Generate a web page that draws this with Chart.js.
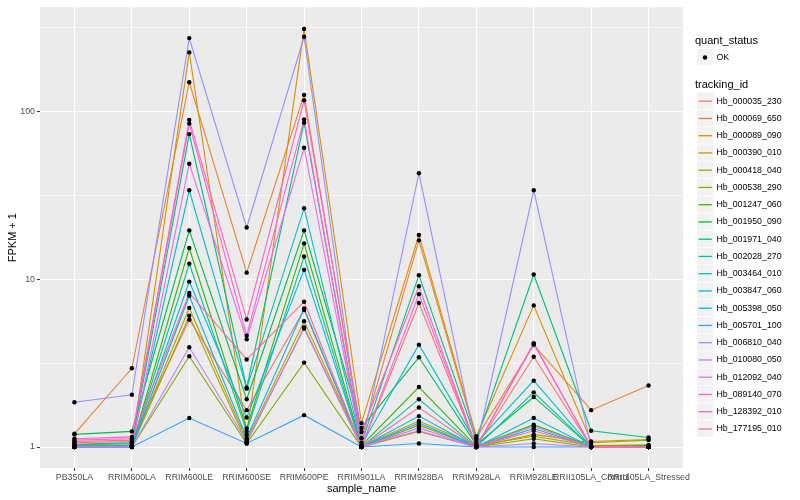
<!DOCTYPE html>
<html>
<head>
<meta charset="utf-8">
<script src="https://cdn.jsdelivr.net/npm/chart.js@4.4.0/dist/chart.umd.min.js"></script>
<style>
  body { margin: 0; background: #fff; }
  #fpkmChart { display: block; }
</style>
</head>
<body>
<canvas id="fpkmChart" width="800" height="500"></canvas>
<script>
// Các mẫu (trục x)
const categories = ['PB350LA', 'RRIM600LA', 'RRIM600LE', 'RRIM600SE', 'RRIM600PE', 'RRIM901LA',
  'RRIM928BA', 'RRIM928LA', 'RRIM928LE', 'RRII105LA_Control', 'RRII105LA_Stressed'];

// Giá trị FPKM + 1 cho từng gene
const hb_000035_230 = [1.06, 1.08, 5.75, 1.66, 6.56, 1.0, 7.24, 1.0, 3.46, 1.0, 1.0];
const hb_000069_650 = [1.2, 2.95, 150, 10.97, 126, 1.13, 17.1, 1.13, 4.07, 1.66, 2.33];
const hb_000089_090 = [1.02, 1.03, 226, 1.18, 312, 1.39, 18.4, 1.16, 7.0, 1.08, 1.11];
const hb_000390_010 = [1.0, 1.01, 6.76, 1.1, 5.63, 1.01, 1.43, 1.02, 1.16, 1.02, 1.03];
const hb_000418_040 = [1.0, 1.0, 6.07, 1.06, 5.18, 1.0, 1.24, 1.0, 1.19, 1.06, 1.1];
const hb_000538_290 = [1.0, 1.0, 3.48, 1.05, 3.19, 1.0, 1.35, 1.0, 1.12, 1.0, 1.0];
const hb_001247_060 = [1.01, 1.02, 15.4, 1.29, 16.4, 1.02, 2.28, 1.01, 1.36, 1.01, 1.01];
const hb_001950_090 = [1.19, 1.24, 19.6, 1.93, 19.6, 1.3, 3.43, 1.03, 1.99, 1.0, 1.02];
const hb_001971_040 = [1.04, 1.06, 73.6, 2.26, 86, 1.06, 10.6, 1.1, 10.7, 1.25, 1.14];
const hb_002028_270 = [1.0, 1.01, 12.4, 1.24, 13.7, 1.0, 1.93, 1.0, 2.12, 1.0, 1.0];
const hb_003464_010 = [1.03, 1.05, 34, 2.23, 26.6, 1.03, 4.08, 1.06, 2.49, 1.0, 1.0];
const hb_003847_060 = [1.0, 1.02, 9.7, 1.5, 11.4, 1.0, 1.53, 1.0, 1.49, 1.0, 1.0];
const hb_005398_050 = [1.0, 1.01, 7.98, 1.13, 6.7, 1.0, 1.39, 1.0, 1.29, 1.0, 1.0];
const hb_005701_100 = [1.0, 1.0, 1.49, 1.05, 1.55, 1.0, 1.05, 1.0, 1.0, 1.0, 1.0];
const hb_006810_040 = [1.85, 2.05, 275, 20.4, 280, 1.0, 43, 1.0, 34, 1.0, 1.0];
const hb_010080_050 = [1.0, 1.0, 3.94, 1.08, 5.1, 1.0, 1.3, 1.0, 1.05, 1.0, 1.0];
const hb_012092_040 = [1.0, 1.01, 49, 4.39, 61, 1.01, 1.25, 1.0, 1.33, 1.0, 1.0];
const hb_089140_070 = [1.1, 1.12, 85, 4.62, 90, 1.0, 8.17, 1.0, 4.12, 1.0, 1.0];
const hb_128392_010 = [1.12, 1.15, 89.5, 5.77, 117, 1.23, 9.1, 1.0, 4.17, 1.0, 1.0];
const hb_177195_010 = [1.08, 1.1, 8.3, 3.33, 7.36, 1.0, 1.72, 1.0, 1.25, 1.0, 1.0];

const trackingIds = ['Hb_000035_230', 'Hb_000069_650', 'Hb_000089_090', 'Hb_000390_010',
  'Hb_000418_040', 'Hb_000538_290', 'Hb_001247_060', 'Hb_001950_090', 'Hb_001971_040',
  'Hb_002028_270', 'Hb_003464_010', 'Hb_003847_060', 'Hb_005398_050', 'Hb_005701_100',
  'Hb_006810_040', 'Hb_010080_050', 'Hb_012092_040', 'Hb_089140_070', 'Hb_128392_010',
  'Hb_177195_010'];
const seriesValues = [hb_000035_230, hb_000069_650, hb_000089_090, hb_000390_010, hb_000418_040,
  hb_000538_290, hb_001247_060, hb_001950_090, hb_001971_040, hb_002028_270, hb_003464_010,
  hb_003847_060, hb_005398_050, hb_005701_100, hb_006810_040, hb_010080_050, hb_012092_040,
  hb_089140_070, hb_128392_010, hb_177195_010];

// Nhãn trục y (log)
const yTickValues = [1, 10, 100];
const yMinorValues = [Math.sqrt(10), Math.sqrt(1000), Math.sqrt(100000)];

// Màu kiểu ggplot
const lineColours = ['#F8766D', '#EA8331', '#D89000', '#C09B00', '#A3A500', '#7CAE00', '#39B600',
  '#00BB4E', '#00BF7D', '#00C1A3', '#00BFC4', '#00BAE0', '#00B0F6', '#35A2FF', '#9590FF',
  '#C77CFF', '#E76BF3', '#FA62DB', '#FF62BC', '#FF6C91'];

const FONT = "'Liberation Sans', Arial, sans-serif";

const lineSets = trackingIds.map((id, i) => ({
  label: id,
  data: seriesValues[i].map((v, j) => ({ x: j, y: v })),
  borderColor: lineColours[i],
  backgroundColor: lineColours[i],
  borderWidth: 1.1,
  pointRadius: 0,
  tension: 0,
  order: 20 - i,
}));

const pointSet = {
  label: 'OK',
  data: seriesValues.flatMap(vals => vals.map((v, j) => ({ x: j, y: v }))),
  showLine: false,
  pointRadius: 2.2,
  pointBackgroundColor: '#000',
  pointBorderWidth: 0,
  order: -1,
};

// Vẽ nền panel và chú thích
const ggPlugin = {
  id: 'ggPlugin',
  beforeDraw(chart) {
    const c = chart.ctx, a = chart.chartArea;
    c.save();
    c.fillStyle = '#fff';
    c.fillRect(0, 0, chart.width, chart.height);
    c.fillStyle = '#EBEBEB';
    c.fillRect(a.left, a.top, a.right - a.left, a.bottom - a.top);
    c.restore();
  },
  afterDraw(chart) {
    const c = chart.ctx;
    const kx = 697, ks = 17.3;
    c.save();
    c.textBaseline = 'middle';
    c.textAlign = 'left';
    c.fillStyle = '#000';
    c.font = '11px ' + FONT;
    c.fillText('quant_status', 695, 41);
    // key OK
    c.fillStyle = '#F2F2F2';
    c.fillRect(kx, 49, ks - 1, ks - 1);
    c.fillStyle = '#000';
    c.beginPath();
    c.arc(kx + 8, 57.5, 2.2, 0, Math.PI * 2);
    c.fill();
    c.font = '8.8px ' + FONT;
    c.fillText('OK', 716.5, 57.5);

    c.font = '11px ' + FONT;
    c.fillText('tracking_id', 695, 85);
    trackingIds.forEach((id, i) => {
      const cy = 100.7 + i * 17.25;
      c.fillStyle = '#F2F2F2';
      c.fillRect(kx, cy - 8, ks - 1, ks - 1);
      c.strokeStyle = lineColours[i];
      c.lineWidth = 1.3;
      c.beginPath();
      c.moveTo(kx + 1.5, cy + 0.5);
      c.lineTo(kx + ks - 2.5, cy + 0.5);
      c.stroke();
      c.fillStyle = '#000';
      c.font = '8.8px ' + FONT;
      c.fillText(id, 716.5, cy + 0.5);
    });
    c.restore();
  },
};

const chart = new Chart(document.getElementById('fpkmChart').getContext('2d'), {
  type: 'line',
  data: { datasets: [...lineSets, pointSet] },
  plugins: [ggPlugin],
  options: {
    responsive: false,
    animation: false,
    devicePixelRatio: 1,
    layout: { padding: { left: 0, right: 117, top: 5, bottom: 0 } },
    plugins: { legend: { display: false }, tooltip: { enabled: false } },
    scales: {
      x: {
        type: 'linear',
        min: -0.6,
        max: categories.length - 0.4,
        afterBuildTicks: s => { s.ticks = categories.map((_, i) => ({ value: i })); },
        afterFit: s => { s.height = 32; },
        border: { display: false },
        grid: { color: '#fff', lineWidth: 1.1, tickColor: '#333', tickLength: 3, tickWidth: 1 },
        ticks: {
          autoSkip: false, maxRotation: 0, minRotation: 0, padding: 1,
          color: '#4D4D4D', font: { family: FONT, size: 8.8 },
          callback: v => categories[v],
        },
        title: { display: true, text: 'sample_name', color: '#000', font: { family: FONT, size: 11 }, padding: { top: 0, bottom: 4 } },
      },
      y: {
        type: 'logarithmic',
        min: 0.75,
        max: 420,
        afterBuildTicks: s => {
          s.ticks = [...yTickValues, ...yMinorValues].sort((a, b) => a - b).map(v => ({ value: v }));
        },
        afterFit: s => { s.width = 40; },
        border: { display: false },
        grid: {
          color: '#fff',
          lineWidth: ctx => (yTickValues.includes(ctx.tick && ctx.tick.value) ? 1.1 : 0.55),
          tickColor: ctx => (yTickValues.includes(ctx.tick && ctx.tick.value) ? '#333' : 'rgba(0,0,0,0)'),
          tickLength: 3, tickWidth: 1,
        },
        ticks: {
          padding: 2,
          color: '#4D4D4D', font: { family: FONT, size: 8.8 },
          callback: v => (yTickValues.includes(v) ? String(v) : ''),
        },
        title: { display: true, text: 'FPKM + 1', color: '#000', font: { family: FONT, size: 11 }, padding: { top: 6, bottom: 0 } },
      },
    },
  },
});
</script>
</body>
</html>
